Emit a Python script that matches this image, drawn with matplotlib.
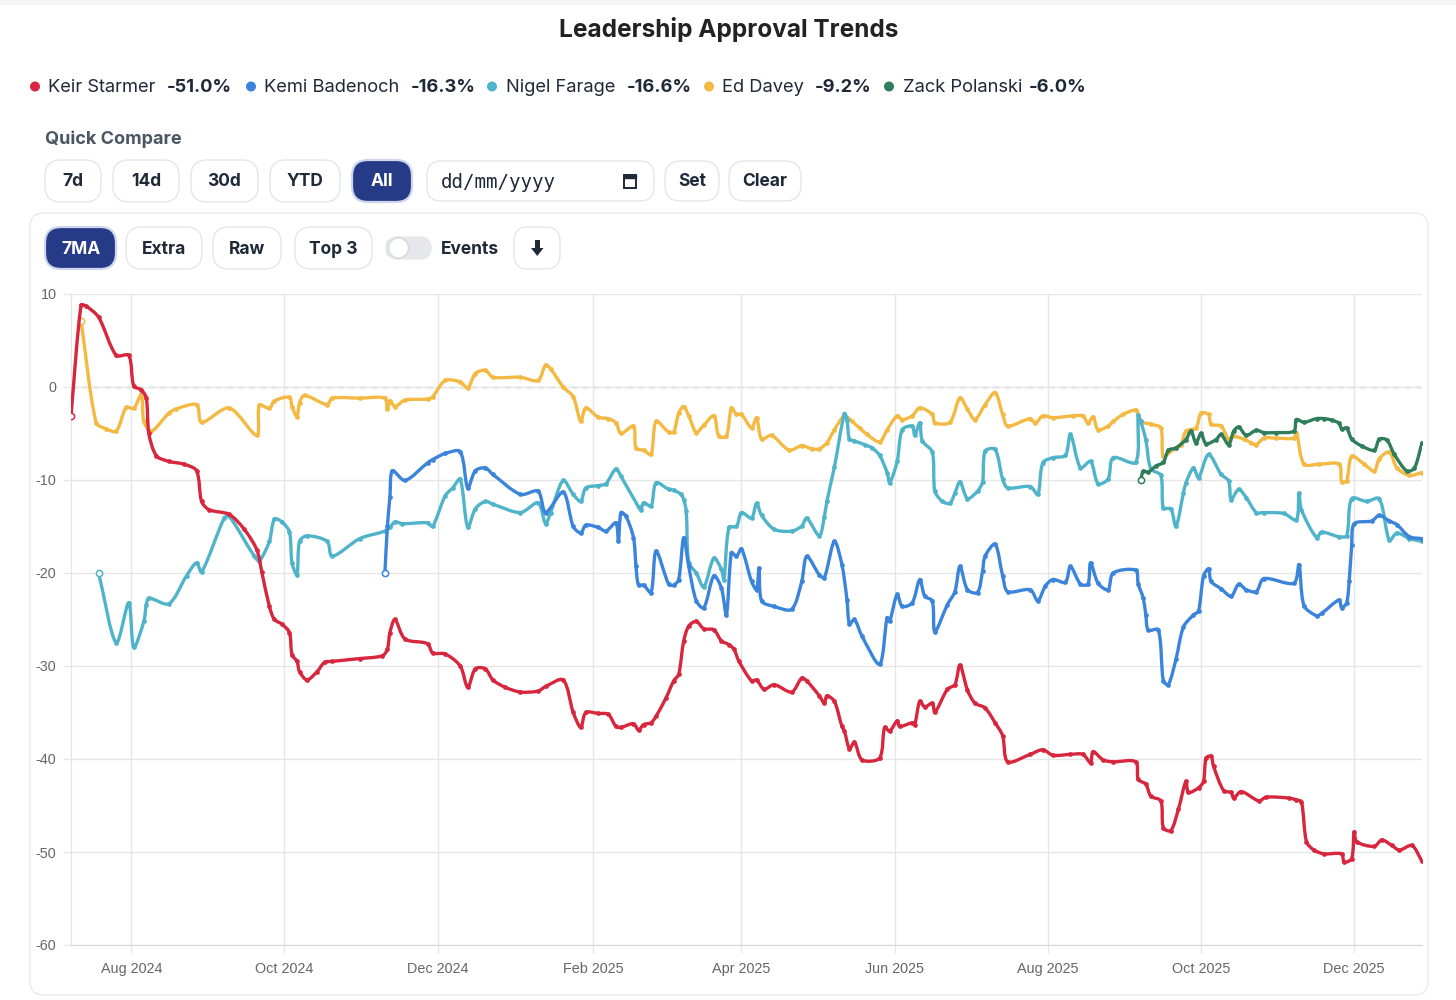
import numpy as np
import matplotlib
matplotlib.use("Agg")
import matplotlib.pyplot as plt
import matplotlib.dates as mdates
from matplotlib.ticker import FuncFormatter
from matplotlib.patches import FancyBboxPatch, Circle, Rectangle, Polygon, PathPatch
from matplotlib.path import Path

# ---------------- data (days counted from 2024-08-01) ----------------
EPOCH = "2024-08-01"

starmer_days = [-24, -20, -18, -13, -6, -1, 1, 4, 6, 7,
                10, 15, 21, 26, 28, 31, 39, 45, 50, 52,
                55, 57, 60, 63, 64, 66, 67, 70, 74, 77,
                80, 91, 100, 102, 103, 105, 109, 118, 120, 125,
                131, 134, 137, 141, 144, 149, 155, 162, 165, 172,
                176, 179, 181, 186, 190, 193, 195, 200, 202, 204,
                207, 209, 213, 216, 218, 220, 222, 225, 228, 232,
                235, 238, 240, 242, 247, 249, 252, 256, 263, 267,
                269, 274, 276, 277, 280, 283, 284, 286, 288, 291,
                298, 300, 302, 305, 306, 311, 312, 314, 316, 319,
                320, 325, 328, 330, 333, 336, 340, 344, 347, 349,
                358, 363, 367, 374, 379, 382, 383, 387, 391, 400,
                401, 404, 406, 410, 411, 414, 417, 420, 421, 425,
                427, 428, 430, 431, 435, 438, 439, 442, 449, 452,
                461, 464, 466, 468, 471, 475, 482, 483, 486, 487,
                488, 495, 498, 502, 505, 510, 514]
starmer_vals = [-3.1, 8.8, 8.7, 7.5, 3.4, 3.4, 0.1, -0.3, -1.2, -5.0,
                -7.4, -8.0, -8.3, -9.0, -12.3, -13.2, -13.7, -15.3, -17.5, -19.9,
                -23.6, -25.0, -25.5, -26.4, -28.8, -29.5, -30.6, -31.5, -30.6, -29.6,
                -29.5, -29.2, -28.9, -28.2, -26.4, -25.0, -27.1, -27.6, -28.6, -28.7,
                -30.0, -32.3, -30.3, -30.3, -31.5, -32.3, -32.8, -32.7, -32.2, -31.5,
                -35.0, -36.6, -35.0, -35.1, -35.2, -36.5, -36.6, -36.2, -36.9, -36.3,
                -36.1, -35.4, -33.4, -31.6, -30.9, -27.3, -25.7, -25.2, -26.0, -26.1,
                -27.3, -27.7, -28.2, -29.5, -31.6, -31.5, -32.5, -32.0, -32.8, -31.3,
                -31.6, -33.2, -34.0, -33.2, -33.8, -36.5, -37.0, -38.9, -38.2, -40.1,
                -39.9, -36.6, -37.0, -35.9, -36.5, -36.1, -36.3, -33.8, -34.4, -34.0,
                -35.0, -32.5, -32.0, -29.9, -32.6, -34.0, -34.5, -36.1, -37.5, -40.3,
                -39.5, -39.0, -39.6, -39.5, -39.5, -40.4, -39.2, -40.1, -40.3, -40.3,
                -42.2, -42.7, -44.0, -44.5, -47.4, -47.7, -45.4, -42.4, -43.6, -43.1,
                -42.4, -39.9, -39.7, -40.8, -43.4, -43.6, -44.2, -43.5, -44.5, -44.1,
                -44.2, -44.4, -44.6, -48.9, -49.8, -50.2, -50.2, -51.1, -50.7, -47.8,
                -48.9, -49.4, -48.7, -49.3, -49.8, -49.3, -51.0]

badenoch_days = [101, 102, 103, 104, 109, 118, 120, 125, 131, 134,
                 137, 141, 144, 155, 162, 165, 172, 176, 179, 181,
                 186, 189, 193, 194, 195, 197, 200, 201, 202, 204,
                 207, 209, 214, 216, 218, 220, 222, 225, 228, 232,
                 235, 237, 239, 241, 243, 247, 249, 250, 251, 256,
                 263, 267, 269, 274, 276, 280, 283, 285, 286, 288,
                 291, 298, 301, 302, 305, 307, 311, 314, 316, 319,
                 320, 325, 328, 330, 333, 337, 339, 340, 344, 347,
                 349, 358, 361, 364, 367, 372, 374, 378, 381, 382,
                 385, 389, 391, 400, 401, 403, 404, 405, 409, 411,
                 413, 416, 419, 423, 425, 427, 429, 430, 434, 438,
                 441, 444, 448, 451, 463, 465, 467, 472, 474, 481,
                 482, 484, 485, 486, 487, 494, 497, 501, 504, 509,
                 514]
badenoch_vals = [-20.0, -15.0, -11.8, -9.0, -10.05, -8.15, -7.8, -7.15, -6.95, -10.85,
                 -9.0, -8.7, -9.4, -11.55, -11.2, -13.5, -11.3, -15.0, -15.7, -14.85,
                 -15.1, -15.5, -14.6, -16.6, -13.5, -13.9, -16.2, -19.3, -21.3, -21.3,
                 -22.1, -17.65, -21.2, -21.3, -20.7, -16.2, -19.3, -23.0, -23.75, -20.3,
                 -21.6, -24.5, -17.8, -18.2, -17.4, -20.9, -21.8, -19.45, -23.0, -23.6,
                 -23.9, -20.9, -18.2, -20.2, -20.5, -16.6, -19.1, -22.85, -25.5, -25.0,
                 -26.8, -29.8, -24.8, -25.2, -22.3, -23.6, -23.2, -20.7, -22.5, -23.0,
                 -26.3, -23.4, -22.0, -19.3, -21.8, -22.1, -19.8, -18.2, -16.9, -20.3,
                 -22.0, -21.8, -23.0, -21.4, -20.7, -21.0, -19.3, -21.2, -21.2, -18.9,
                 -21.1, -21.8, -20.0, -19.7, -21.2, -22.7, -24.5, -26.15, -26.1, -31.6,
                 -32.0, -29.3, -25.8, -24.5, -24.1, -20.3, -19.55, -20.9, -21.7, -22.5,
                 -21.2, -21.8, -22.0, -20.6, -21.1, -19.1, -23.5, -24.6, -24.35, -22.9,
                 -23.75, -23.2, -20.9, -17.0, -14.7, -14.4, -13.8, -14.4, -14.8, -16.1,
                 -16.3]

farage_days = [-13, -6, -1, 1, 5, 6, 7, 15, 22, 26,
               28, 37, 39, 49, 51, 55, 57, 60, 63, 64,
               66, 67, 70, 78, 80, 91, 101, 103, 105, 108,
               118, 120, 125, 128, 131, 134, 137, 141, 144, 155,
               162, 165, 167, 172, 176, 179, 181, 186, 189, 193,
               195, 202, 203, 204, 207, 209, 214, 216, 219, 220,
               221, 222, 225, 228, 232, 235, 236, 238, 241, 243,
               247, 249, 251, 256, 263, 267, 269, 274, 276, 277,
               280, 284, 285, 286, 288, 292, 295, 298, 301, 302,
               305, 307, 311, 312, 314, 315, 319, 320, 323, 326,
               328, 330, 333, 337, 339, 340, 344, 347, 349, 358,
               361, 363, 367, 372, 374, 378, 382, 385, 389, 391,
               400, 401, 402, 404, 406, 410, 411, 414, 416, 419,
               420, 423, 425, 429, 434, 437, 438, 441, 444, 448,
               451, 459, 464, 465, 466, 472, 474, 481, 484, 486,
               492, 497, 501, 504, 509, 514]
farage_vals = [-20.0, -27.5, -23.2, -28.0, -25.2, -23.4, -22.7, -23.3, -20.3, -18.9,
               -19.9, -14.1, -13.9, -18.2, -18.7, -16.6, -14.2, -14.5, -15.6, -18.9,
               -20.2, -16.6, -16.0, -16.6, -18.2, -16.3, -15.5, -15.1, -14.5, -14.7,
               -14.6, -15.0, -11.7, -10.85, -9.9, -15.1, -13.1, -12.3, -12.6, -13.5,
               -12.45, -14.7, -13.5, -10.05, -11.55, -12.3, -10.85, -10.6, -10.4, -8.8,
               -9.6, -12.9, -13.2, -12.45, -12.8, -10.3, -11.0, -11.1, -11.55, -12.1,
               -13.35, -18.9, -20.0, -21.5, -18.4, -19.6, -20.7, -15.1, -15.0, -13.5,
               -14.1, -12.5, -13.8, -15.3, -15.5, -14.95, -14.1, -16.0, -13.95, -12.3,
               -8.6, -2.85, -3.5, -5.6, -5.8, -6.2, -6.55, -7.35, -9.2, -10.3,
               -8.0, -4.6, -4.2, -5.2, -3.85, -5.8, -7.0, -11.2, -12.3, -12.5,
               -11.4, -10.2, -12.0, -11.2, -10.2, -6.9, -6.7, -9.9, -10.85, -10.7,
               -11.55, -8.15, -7.6, -7.35, -5.1, -8.7, -8.0, -10.4, -9.9, -7.6,
               -8.1, -3.05, -3.7, -5.65, -8.8, -9.5, -13.0, -13.1, -15.0, -11.4,
               -10.3, -8.7, -9.75, -7.25, -9.4, -10.1, -12.1, -11.0, -11.9, -13.5,
               -13.5, -13.6, -14.3, -11.4, -13.2, -16.2, -15.6, -16.1, -16.0, -12.0,
               -12.3, -12.0, -16.5, -15.7, -16.3, -16.6]

davey_days = [-20, -14, -10, -6, -2, 1, 4, 5, 8, 15,
              18, 26, 28, 39, 50, 51, 55, 57, 63, 64,
              66, 67, 69, 78, 80, 91, 101, 102, 103, 105,
              109, 118, 120, 125, 131, 134, 137, 141, 144, 155,
              162, 165, 167, 172, 176, 179, 181, 186, 190, 193,
              195, 200, 201, 204, 207, 209, 214, 216, 218, 220,
              222, 225, 228, 232, 234, 237, 239, 241, 243, 247,
              249, 251, 255, 262, 267, 271, 274, 277, 280, 284,
              287, 290, 293, 298, 301, 305, 307, 311, 314, 319,
              320, 326, 330, 333, 336, 340, 344, 347, 349, 358,
              360, 363, 367, 375, 379, 381, 383, 385, 389, 391,
              395, 400, 402, 406, 410, 411, 415, 418, 420, 424,
              426, 429, 430, 434, 437, 439, 443, 446, 448, 451,
              456, 463, 464, 467, 473, 481, 482, 484, 486, 491,
              495, 497, 501, 504, 509, 514]
davey_vals = [7.1, -3.85, -4.5, -4.75, -2.2, -2.3, -0.8, -3.7, -4.75, -2.8,
              -2.35, -1.9, -3.8, -2.25, -5.2, -1.95, -2.3, -1.5, -1.1, -2.1,
              -3.2, -1.7, -0.9, -1.9, -1.2, -1.2, -1.2, -2.35, -1.5, -2.1,
              -1.4, -1.3, -1.05, 0.7, 0.55, -0.1, 1.45, 1.8, 1.05, 1.05,
              0.7, 2.35, 1.95, 0.0, -1.05, -3.7, -2.25, -3.25, -3.4, -3.85,
              -5.0, -4.2, -6.6, -6.8, -7.25, -3.7, -4.85, -4.85, -2.8, -2.1,
              -3.1, -4.9, -4.1, -3.1, -5.3, -5.3, -2.25, -2.95, -2.95, -4.4,
              -3.3, -5.6, -5.2, -6.8, -6.3, -6.65, -6.65, -6.0, -4.6, -3.1,
              -3.7, -4.4, -5.1, -5.9, -4.6, -3.1, -3.5, -3.1, -2.25, -2.95,
              -3.85, -3.8, -1.15, -2.4, -3.5, -1.9, -0.6, -2.95, -4.2, -3.4,
              -3.9, -3.1, -3.3, -3.1, -3.1, -3.9, -3.2, -4.6, -4.2, -3.7,
              -2.95, -2.5, -3.7, -4.0, -4.4, -7.45, -6.7, -6.2, -4.75, -4.4,
              -2.8, -2.95, -4.0, -4.2, -5.6, -5.3, -5.6, -6.0, -6.2, -5.5,
              -5.5, -5.5, -4.9, -8.3, -8.3, -8.3, -10.2, -10.1, -7.45, -8.3,
              -9.05, -7.7, -7.0, -8.7, -9.5, -9.2]

polanski_days = [402, 403, 405, 408, 411, 413, 416, 420, 422, 424,
                 426, 428, 432, 434, 437, 439, 441, 444, 448, 451,
                 456, 463, 464, 467, 472, 475, 478, 481, 482, 484,
                 486, 490, 495, 497, 500, 503, 508, 511, 514]
polanski_vals = [-10.0, -9.05, -9.15, -8.5, -8.1, -6.8, -6.55, -5.65, -4.75, -6.0,
                 -5.0, -6.1, -5.65, -5.1, -6.2, -4.75, -4.3, -5.2, -4.65, -4.9,
                 -4.9, -4.75, -3.5, -3.8, -3.4, -3.4, -3.55, -3.9, -4.5, -4.4,
                 -5.6, -6.35, -6.8, -5.6, -5.7, -7.25, -9.05, -8.7, -6.0]

names = ["Keir Starmer", "Kemi Badenoch", "Nigel Farage", "Ed Davey", "Zack Polanski"]
colors = ["#d7263d", "#3b84db", "#4fb4c9", "#f4b942", "#2f7d5b"]
series_days = [starmer_days, badenoch_days, farage_days, davey_days, polanski_days]
series_vals = [starmer_vals, badenoch_vals, farage_vals, davey_vals, polanski_vals]

title = "Leadership Approval Trends"
range_buttons = ["7d", "14d", "30d", "YTD", "All"]
view_buttons = ["7MA", "Extra", "Raw", "Top 3"]
y_ticks = [10, 0, -10, -20, -30, -40, -50, -60]

# ---------------- figure ----------------
W, H = 1456, 1000
fig = plt.figure(figsize=(W / 100, H / 100), dpi=100)
fig.patch.set_facecolor("white")

UI = ["Inter", "DejaVu Sans"]
TXT = "#1f2937"
NAVY = "#263b88"

ui = fig.add_axes([0, 0, 1, 1], zorder=0)
ui.set_xlim(0, W)
ui.set_ylim(H, 0)
ui.axis("off")


def box(x0, y0, x1, y1, r, fc="white", ec="#e3e6eb", lw=1.0, z=1):
    p = FancyBboxPatch((x0, y0), x1 - x0, y1 - y0,
                       boxstyle=f"round,pad=0,rounding_size={r}",
                       fc=fc, ec=ec, lw=lw, zorder=z)
    ui.add_patch(p)


# faint top shade
ui.add_patch(Rectangle((0, 0), W, 5, fc="#f6f6f7", ec="none", zorder=0))

# title
ui.text(729, 29, title, ha="center", va="center", fontsize=17.6, fontweight="bold",
        color="#222222", family=UI)

# legend row
dot_x = [35, 251, 492, 709, 889]
name_x = [48, 264, 506, 722, 903]
val_x = [167, 411, 627, 815, 1029]
for i in range(len(names)):
    ui.add_patch(Circle((dot_x[i], 86.5), 5, fc=colors[i], ec="none", zorder=2))
    ui.text(name_x[i], 87.5, names[i], ha="left", va="center", fontsize=13.2,
            color=TXT, family=UI)
    ui.text(val_x[i], 87.5, f"{series_vals[i][-1]:.1f}%", ha="left", va="center",
            fontsize=13.2, fontweight="bold", color=TXT, family=UI)

# quick compare
ui.text(45, 139, "Quick Compare", ha="left", va="center", fontsize=13,
        fontweight="bold", color="#4b5563", family=UI)

rb_x = [(45, 101), (113, 179), (191, 258), (270, 340), (352, 412)]
for lab, (x0, x1) in zip(range_buttons, rb_x):
    active = lab == "All"
    box(x0, 160, x1, 202, 16, fc=NAVY if active else "white",
        ec="#cfd5ea" if active else "#e3e6eb", lw=1.6 if active else 1.0)
    ui.text((x0 + x1) / 2, 182, lab, ha="center", va="center", fontsize=12.5,
            fontweight="bold", color="white" if active else TXT, family=UI, zorder=3)

# date input
box(427, 161, 654, 201, 14)
ui.text(441, 182.5, "dd/mm/yyyy", ha="left", va="center", fontsize=13.8,
        color=TXT, family=["DejaVu Sans Mono"], zorder=3)
ui.add_patch(Rectangle((623.5, 174.5), 12, 13, fc="none", ec=TXT, lw=1.4, zorder=3))
ui.add_patch(Rectangle((623.5, 174.5), 12, 3, fc=TXT, ec=TXT, lw=1.0, zorder=3))
for lab, (x0, x1) in zip(["Set", "Clear"], [(665, 719), (729, 801)]):
    box(x0, 161, x1, 201, 16)
    ui.text((x0 + x1) / 2, 182, lab, ha="center", va="center", fontsize=12.5,
            fontweight="bold", color=TXT, family=UI, zorder=3)

# card
box(30, 213, 1428, 995, 14, fc="white", ec="#eceef2", lw=1.2, z=0.5)

vb_x = [(45, 116), (126, 202), (213, 281), (295, 372)]
for lab, (x0, x1) in zip(view_buttons, vb_x):
    active = lab == "7MA"
    box(x0, 227, x1, 269, 16, fc=NAVY if active else "white",
        ec="#cfd5ea" if active else "#e3e6eb", lw=1.6 if active else 1.0)
    ui.text((x0 + x1) / 2, 249, lab, ha="center", va="center", fontsize=12.5,
            fontweight="bold", color="white" if active else TXT, family=UI, zorder=3)

# toggle
box(386, 237, 431, 259, 11, fc="#e5e7eb", ec="#e5e7eb", lw=1.0, z=1)
ui.add_patch(Circle((398.5, 248), 10, fc="white", ec="#d6d9de", lw=1.0, zorder=2))
ui.text(441, 249, "Events", ha="left", va="center", fontsize=12.5,
        fontweight="bold", color=TXT, family=UI)

# download button
box(514, 227, 560, 269, 14)
ui.add_patch(Rectangle((535, 240), 4.5, 9, fc=TXT, ec="none", zorder=3))
ui.add_patch(Polygon([[531, 248], [543.5, 248], [537.25, 256]], closed=True,
                     fc=TXT, ec="none", zorder=3))

# ---------------- chart ----------------
ax = fig.add_axes([71 / W, 1 - 945 / H, (1422 - 71) / W, (945 - 294) / H], zorder=2)
ax.set_facecolor("none")

epoch = np.datetime64(EPOCH)
series_dates = []
for days in series_days:
    d = (epoch + np.array(days, dtype="timedelta64[D]")).astype("datetime64[D]").astype(object)
    series_dates.append(d)
xmin = min(d[0] for d in series_dates)
xmax = max(d[-1] for d in series_dates)
ax.set_xlim(xmin, xmax)
ax.set_ylim(-60, 10)


def spline_path(xnum, yv, tension=0.3):
    """Chart.js-style cardinal bezier through the points, built in display space."""
    P = ax.transData.transform(np.column_stack([xnum, yv]))
    n = len(P)
    prev_cp = np.zeros_like(P)
    next_cp = np.zeros_like(P)
    for i in range(n):
        a = P[i - 1] if i > 0 else P[i]
        b = P[i]
        c = P[i + 1] if i < n - 1 else P[i]
        d01 = np.hypot(*(b - a))
        d12 = np.hypot(*(c - b))
        tot = d01 + d12
        s01 = d01 / tot if tot > 0 else 0
        s12 = d12 / tot if tot > 0 else 0
        prev_cp[i] = b - tension * s01 * (c - a)
        next_cp[i] = b + tension * s12 * (c - a)
    verts = [P[0]]
    codes = [Path.MOVETO]
    for i in range(n - 1):
        verts += [next_cp[i], prev_cp[i + 1], P[i + 1]]
        codes += [Path.CURVE4] * 3
    inv = ax.transData.inverted()
    return Path(inv.transform(np.array(verts)), codes)


zorders = [9, 8, 7, 6, 10]
for i in range(len(names)):
    d = series_dates[i]
    xnum = mdates.date2num(d)
    z = zorders[i]
    path = spline_path(xnum, series_vals[i])
    ax.add_patch(PathPatch(path, fc="none", ec=colors[i], lw=2.4, capstyle="round",
                           joinstyle="round", zorder=z))
    ax.plot(d, series_vals[i], ls="none", color=colors[i], marker="o", ms=3.4,
            mew=0, zorder=z)
    ax.plot([d[0]], [series_vals[i][0]], ls="none", marker="o", ms=4.5,
            mfc="white", mec=colors[i], mew=1.1, zorder=z + 0.5)

ax.set_yticks(y_ticks)
ax.yaxis.set_major_formatter(FuncFormatter(lambda v, p: f"{int(v)}"))
ax.xaxis.set_major_locator(mdates.MonthLocator(bymonth=[2, 4, 6, 8, 10, 12]))
ax.xaxis.set_major_formatter(mdates.DateFormatter("%b %Y"))

ax.axhline(0, color="#9c9c9c", lw=1.0, ls=(0, (4, 4)), zorder=1)
ax.grid(True, color="#e6e6e6", lw=1.0, zorder=0)
for s in ["top", "right"]:
    ax.spines[s].set_visible(False)
ax.spines["left"].set_color("#e2e2e2")
ax.spines["bottom"].set_color("#d6d6d6")
ax.tick_params(axis="both", length=5.5, width=1.0, color="#e6e6e6",
               labelcolor="#666666", labelsize=10.4)
ax.tick_params(axis="y", pad=5)
ax.tick_params(axis="x", pad=7)
for lab in ax.get_xticklabels() + ax.get_yticklabels():
    lab.set_family(["Liberation Sans", "DejaVu Sans"])

fig.savefig("out.png", dpi=100, facecolor="white")
